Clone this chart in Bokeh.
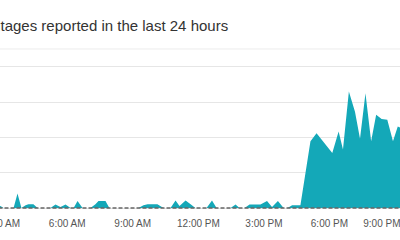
from bokeh.plotting import figure
from bokeh.models import Range1d, FixedTicker, Span, Grid
from bokeh.embed import file_html
from bokeh.resources import INLINE

# time of day in hours since midnight
hours = [2.79, 2.93, 3.07, 3.53, 3.71, 3.89, 4.08, 4.21, 4.44, 4.63,
         5.22, 5.45, 5.68, 5.91, 6.14, 6.28, 6.46, 6.69, 7.05, 7.28,
         7.42, 7.74, 7.92, 9.25, 9.48, 9.67, 10.12, 10.40, 10.72, 10.95,
         11.13, 11.41, 11.64, 11.86, 12.37, 12.62, 12.83, 13.47, 13.70, 13.88,
         14.11, 14.34, 14.84, 15.14, 15.37, 15.64, 15.90, 16.08, 16.29, 16.58,
         16.67, 17.13, 17.41, 18.13, 18.42, 18.62, 18.89, 19.17, 19.40, 19.65,
         19.91, 20.14, 20.39, 20.65, 20.91, 21.13, 21.35]
reports = [0, 0.6, 0, 0, 4.1, 0, 0.8, 1.1, 1.1, 0,
           0, 1.0, 0.3, 1.0, 0, 0, 2.0, 0, 0, 1.1,
           2.0, 2.0, 0, 0, 0.8, 1.1, 1.1, 0, 0, 2.1,
           0.6, 2.1, 1.1, 0, 0, 2.1, 0, 0, 1.0, 0,
           0, 1.0, 1.0, 2.0, 0.3, 2.0, 0, 0, 0.8, 0.8,
           0.8, 18.9, 21.2, 15.6, 21.7, 16.6, 33.0, 27.3, 19.6, 32.5,
           18.9, 26.4, 25.2, 25.0, 18.9, 23.1, 22.5]

tick_hours = [3, 6, 9, 12, 15, 18, 21]
tick_labels = ["3:00 AM", "6:00 AM", "9:00 AM", "12:00 PM", "3:00 PM", "6:00 PM", "9:00 PM"]
grid_values = [10, 20, 30, 40]
title_text = "Outages reported in the last 24 hours"

# the reference is a crop: its left 20 px lie outside the window
p = figure(width=420, height=240, output_backend="svg", toolbar_location=None,
           x_range=Range1d(2.015, 21.255), y_range=Range1d(-0.704, 45.49),
           y_axis_location=None,
           min_border_left=0, min_border_right=0, min_border_top=46, min_border_bottom=30)
p.styles = {"margin-left": "-20px"}
p.outline_line_color = None
p.background_fill_color = "white"
p.border_fill_color = "white"

p.title.text = title_text
p.title.text_font = "Liberation Sans"
p.title.text_font_size = "15px"
p.title.text_font_style = "normal"
p.title.text_color = "#333333"
p.title.align = "left"
p.title.offset = 0
p.title.standoff = 28

p.xgrid.visible = False
grid = Grid(dimension=1, ticker=FixedTicker(ticks=grid_values),
            grid_line_color="#e6e6e6", grid_line_width=1)
p.add_layout(grid)

sep = Span(location=45.07, dimension="width", line_color="#ececec", line_width=1)
p.add_layout(sep)

p.varea(x=hours, y1=0, y2=reports, fill_color="#14a8b8", fill_alpha=1.0)

base = Span(location=0, dimension="width", line_color="#666666", line_width=1.5, line_dash="4 2")
p.add_layout(base)

ax = p.xaxis[0]
ax.ticker = FixedTicker(ticks=tick_hours)
ax.major_label_overrides = {h: lab for h, lab in zip(tick_hours, tick_labels)}
ax.axis_line_color = None
ax.major_tick_line_color = None
ax.minor_tick_line_color = None
ax.major_label_text_font = "Liberation Sans"
ax.major_label_text_font_size = "10px"
ax.major_label_text_color = "#555555"
ax.major_label_standoff = 1

open("out.html", "w").write(file_html(p, INLINE))
